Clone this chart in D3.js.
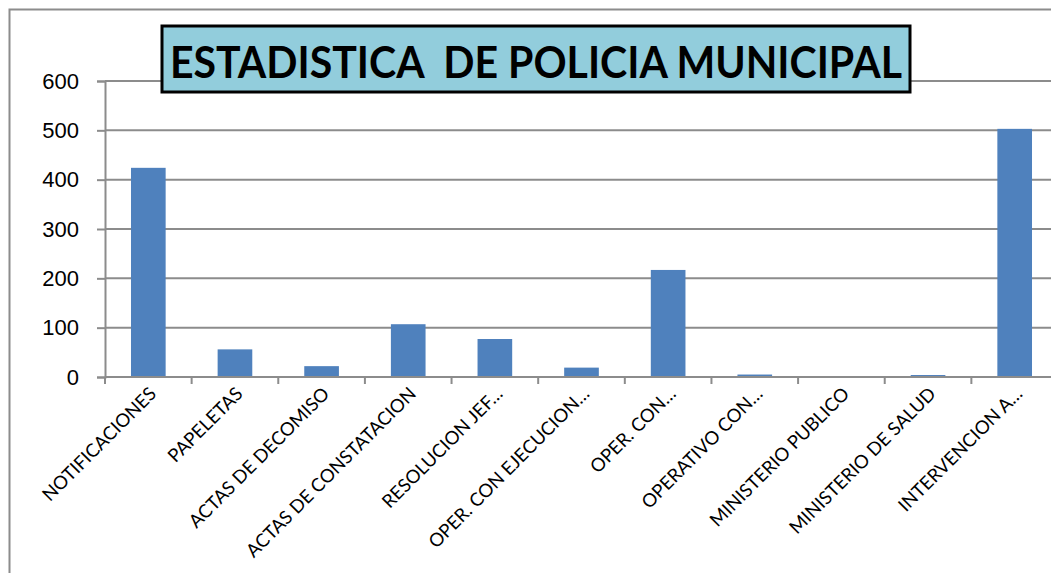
<!DOCTYPE html>
<html>
<head>
<meta charset="utf-8">
<script src="https://cdn.jsdelivr.net/npm/d3@7"></script>
<style>
  body { margin: 0; background: #fff; }
  svg { display: block; }
</style>
</head>
<body>
<div id="chart"></div>
<script>
// Chart data
const categories = ["NOTIFICACIONES", "PAPELETAS", "ACTAS DE DECOMISO", "ACTAS DE CONSTATACION",
  "RESOLUCION JEF…", "OPER. CON EJECUCION…", "OPER. CON…", "OPERATIVO CON…",
  "MINISTERIO PUBLICO", "MINISTERIO DE SALUD", "INTERVENCION A…"];
const values = [424, 56, 22, 107, 77, 19, 217, 5, 2, 4, 503];
const yTicks = [0, 100, 200, 300, 400, 500, 600];
const titleText = "ESTADISTICA  DE POLICIA MUNICIPAL";

const width = 1051, height = 573;
const margin = {top: 81, right: -7, bottom: 196, left: 105};

const svg = d3.select("#chart")
    .append("svg")
    .attr("width", width)
    .attr("height", height);

// outer chart frame (runs off the right and bottom of the picture)
svg.append("rect")
    .attr("x", 9.5).attr("y", 9.5)
    .attr("width", 1100).attr("height", 700)
    .attr("fill", "none")
    .attr("stroke", "#8c8c8c")
    .attr("stroke-width", 2);

let yScale = d3.scaleLinear()
    .domain([0, 600])
    .range([height - margin.bottom, margin.top]);

let xScale = d3.scaleBand()
    .domain(categories)
    .range([margin.left, width - margin.right])
    .paddingInner(0.6)
    .paddingOuter(0.3);

// category boundaries for tick marks
let step = xScale.step();
let x0 = margin.left;

// y axis
svg.append("g")
    .attr("transform", `translate(${margin.left}, 0)`)
    .call(d3.axisLeft(yScale).tickValues(yTicks).tickSize(8).tickPadding(18))
    .call(g => g.select(".domain").attr("stroke", "#8c8c8c").attr("stroke-width", 2))
    .call(g => g.selectAll(".tick line").attr("stroke", "#8c8c8c").attr("stroke-width", 2))
    .call(g => g.selectAll(".tick text")
        .attr("font-family", "Liberation Sans, Arial, sans-serif")
        .attr("font-size", "22px")
        .attr("fill", "#000"));

// gridlines
svg.append("g")
    .selectAll("line")
    .data(yTicks.filter(d => d > 0))
    .enter()
    .append("line")
      .attr("x1", margin.left)
      .attr("x2", width)
      .attr("y1", d => yScale(d))
      .attr("y2", d => yScale(d))
      .attr("stroke", "#8c8c8c")
      .attr("stroke-width", 2);

// bars
svg.selectAll("rect.bar")
    .data(values)
    .enter()
    .append("rect")
      .attr("class", "bar")
      .attr("x", (d, i) => xScale(categories[i]))
      .attr("y", d => yScale(d))
      .attr("width", xScale.bandwidth())
      .attr("height", d => yScale(0) - yScale(d))
      .attr("fill", "#4f81bd");

// x axis line and category tick marks
svg.append("line")
    .attr("x1", margin.left).attr("x2", width)
    .attr("y1", yScale(0)).attr("y2", yScale(0))
    .attr("stroke", "#8c8c8c")
    .attr("stroke-width", 2);

svg.append("g")
    .selectAll("line")
    .data(d3.range(categories.length + 1))
    .enter()
    .append("line")
      .attr("x1", i => x0 + i * step)
      .attr("x2", i => x0 + i * step)
      .attr("y1", yScale(0))
      .attr("y2", yScale(0) + 7)
      .attr("stroke", "#8c8c8c")
      .attr("stroke-width", 2);

// rotated category labels
svg.append("g")
    .selectAll("text")
    .data(categories)
    .enter()
    .append("text")
      .attr("transform", d => `translate(${xScale(d) + xScale.bandwidth() / 2 + 9}, ${yScale(0) + 18}) rotate(-45)`)
      .attr("text-anchor", "end")
      .attr("font-family", "Lato, 'Open Sans', sans-serif")
      .attr("font-size", "18.5px")
      .attr("fill", "#000")
      .text(d => d);

// title box
svg.append("rect")
    .attr("x", 162).attr("y", 26)
    .attr("width", 748).attr("height", 66)
    .attr("fill", "#92cddc")
    .attr("stroke", "#000")
    .attr("stroke-width", 3);

svg.append("text")
    .attr("x", 170)
    .attr("y", 78)
    .attr("font-family", "Lato, 'Open Sans', sans-serif")
    .attr("font-weight", "bold")
    .attr("font-size", "44px")
    .attr("textLength", 732)
    .attr("lengthAdjust", "spacingAndGlyphs")
    .style("white-space", "pre")
    .attr("fill", "#000")
    .text(titleText);
</script>
</body>
</html>
